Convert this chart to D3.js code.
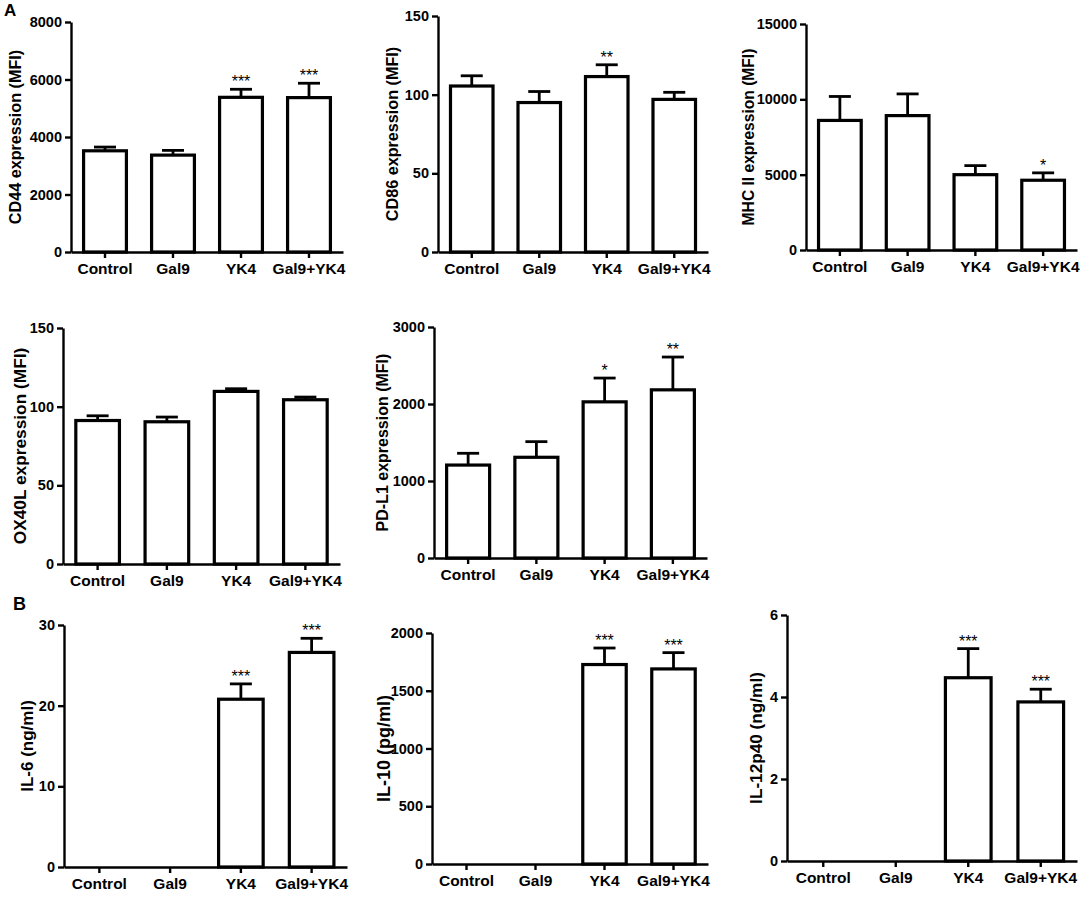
<!DOCTYPE html>
<html>
<head>
<meta charset="utf-8">
<script src="https://cdn.jsdelivr.net/npm/d3@7"></script>
<style>
  body { margin: 0; background: #fff; }
  svg { display: block; }
  text { font-family: "Liberation Sans", Arial, sans-serif; fill: #000; }
  .axis path, .axis line { stroke: #000; stroke-width: 2.4px; }
  .axis text { font-weight: bold; }
  .title { font-weight: bold; }
  .star { font-weight: normal; }
</style>
</head>
<body>
<div id="chart"></div>
<script>
// DATA
var categories = ["Control", "Gal9", "YK4", "Gal9+YK4"];

var cd44Mean = [3520, 3370, 5380, 5370];
var cd44Err  = [130, 165, 280, 500];
var cd44Stars = ["", "", "***", "***"];
var cd44Ticks = [0, 2000, 4000, 6000, 8000];

var cd86Mean = [105.5, 95, 111.5, 97];
var cd86Err  = [6.5, 7, 7.5, 4.5];
var cd86Stars = ["", "", "**", ""];
var cd86Ticks = [0, 50, 100, 150];

var mhc2Mean = [8600, 8920, 5000, 4630];
var mhc2Err  = [1590, 1440, 600, 490];
var mhc2Stars = ["", "", "", "*"];
var mhc2Ticks = [0, 5000, 10000, 15000];

var ox40lMean = [91.2, 90.4, 109.7, 104.4];
var ox40lErr  = [3, 3, 1.7, 1.7];
var ox40lStars = ["", "", "", ""];
var ox40lTicks = [0, 50, 100, 150];

var pdl1Mean = [1207, 1308, 2028, 2184];
var pdl1Err  = [153, 203, 309, 426];
var pdl1Stars = ["", "", "*", "**"];
var pdl1Ticks = [0, 1000, 2000, 3000];

var il6Mean = [0, 0, 20.8, 26.6];
var il6Err  = [0, 0, 1.9, 1.75];
var il6Stars = ["", "", "***", "***"];
var il6Ticks = [0, 10, 20, 30];

var il10Mean = [0, 0, 1727, 1689];
var il10Err  = [0, 0, 143, 141];
var il10Stars = ["", "", "***", "***"];
var il10Ticks = [0, 500, 1000, 1500, 2000];

var il12Mean = [0, 0, 4.47, 3.88];
var il12Err  = [0, 0, 0.71, 0.31];
var il12Stars = ["", "", "***", "***"];
var il12Ticks = [0, 2, 4, 6];

var panels = [
    {title: "CD44 expression (MFI)",   mean: cd44Mean,  err: cd44Err,  stars: cd44Stars,  ticks: cd44Ticks},
    {title: "CD86 expression (MFI)",   mean: cd86Mean,  err: cd86Err,  stars: cd86Stars,  ticks: cd86Ticks},
    {title: "MHC II expression (MFI)", mean: mhc2Mean,  err: mhc2Err,  stars: mhc2Stars,  ticks: mhc2Ticks},
    {title: "OX40L expression (MFI)",  mean: ox40lMean, err: ox40lErr, stars: ox40lStars, ticks: ox40lTicks},
    {title: "PD-L1 expression (MFI)",  mean: pdl1Mean,  err: pdl1Err,  stars: pdl1Stars,  ticks: pdl1Ticks},
    {title: "IL-6 (ng/ml)",            mean: il6Mean,   err: il6Err,   stars: il6Stars,   ticks: il6Ticks},
    {title: "IL-10 (pg/ml)",           mean: il10Mean,  err: il10Err,  stars: il10Stars,  ticks: il10Ticks},
    {title: "IL-12p40 (ng/ml)",        mean: il12Mean,  err: il12Err,  stars: il12Stars,  ticks: il12Ticks}
];

// LAYOUT (axis corner positions, title offset, font sizes)
var layout = [
    {x0: 71,  x1: 343,  yTop: 22,  yBot: 252, tdx: -55.5, tfs: 16.2, fs: 14.5},
    {x0: 438, x1: 708,  yTop: 16,  yBot: 252, tdx: -46,   tfs: 16.2, fs: 14.5},
    {x0: 806, x1: 1077, yTop: 24,  yBot: 250, tdx: -57,   tfs: 15.6, fs: 14.5},
    {x0: 63,  x1: 340,  yTop: 328, yBot: 564, tdx: -43.5, tfs: 17.3, fs: 14.5},
    {x0: 434, x1: 707,  yTop: 327, yBot: 558, tdx: -52,   tfs: 16,   fs: 14.5},
    {x0: 64,  x1: 347,  yTop: 625, yBot: 867, tdx: -37,   tfs: 17,   fs: 14.5},
    {x0: 432, x1: 708,  yTop: 633, yBot: 864, tdx: -48,   tfs: 18,   fs: 14.5},
    {x0: 787, x1: 1077, yTop: 615, yBot: 861, tdx: -31.5, tfs: 17.2, fs: 14.5}
];

var width = 1084, height = 898;

var svg = d3.select("#chart").append("svg")
    .attr("width", width)
    .attr("height", height);

svg.append("text").attr("x", 4).attr("y", 16)
    .attr("font-size", 17).attr("font-weight", "bold").text("A");
svg.append("text").attr("x", 13).attr("y", 610)
    .attr("font-size", 18).attr("font-weight", "bold").text("B");

function drawPanel(p, l) {
    var g = svg.append("g");

    var x = d3.scaleBand()
        .domain(categories)
        .range([l.x0, l.x1])
        .paddingInner(0.37)
        .paddingOuter(0.185);

    var y = d3.scaleLinear()
        .domain([0, d3.max(p.ticks)])
        .range([l.yBot, l.yTop]);

    /* AXIS */
    var xaxis = g.append("g")
        .attr("class", "axis")
        .attr("transform", "translate(0," + l.yBot + ")")
        .call(d3.axisBottom(x).tickSize(6).tickSizeOuter(0).tickPadding(5));
    xaxis.selectAll("text").attr("font-size", l.fs + 1);

    var yaxis = g.append("g")
        .attr("class", "axis")
        .attr("transform", "translate(" + l.x0 + ",0)")
        .call(d3.axisLeft(y).tickValues(p.ticks).tickSize(6).tickSizeOuter(0).tickPadding(3).tickFormat(d3.format("d")));
    yaxis.selectAll("text").attr("font-size", l.fs);

    g.append("text")
        .attr("class", "title")
        .attr("transform", "translate(" + (l.x0 + l.tdx) + "," + ((l.yTop + l.yBot) / 2) + ") rotate(-90)")
        .attr("dy", "0.35em")
        .attr("text-anchor", "middle")
        .attr("font-size", l.tfs)
        .text(p.title);

    var rows = categories.map(function(c, i) {
        return {cat: c, mean: p.mean[i], err: p.err[i], star: p.stars[i]};
    }).filter(function(d) { return d.mean > 0; });

    /* BARS */
    g.selectAll(".bar")
        .data(rows)
        .enter().append("rect")
        .attr("class", "bar")
        .attr("x", function(d) { return x(d.cat); })
        .attr("y", function(d) { return y(d.mean); })
        .attr("width", x.bandwidth())
        .attr("height", function(d) { return y(0) - y(d.mean); })
        .attr("fill", "#fff")
        .attr("stroke", "#000")
        .attr("stroke-width", 3.2);

    /* ERROR BARS */
    var cap = 11;
    var eb = g.selectAll(".err")
        .data(rows)
        .enter().append("g")
        .attr("class", "err")
        .attr("stroke", "#000")
        .attr("stroke-width", 2.8);
    eb.append("line")
        .attr("x1", function(d) { return x(d.cat) + x.bandwidth() / 2; })
        .attr("x2", function(d) { return x(d.cat) + x.bandwidth() / 2; })
        .attr("y1", function(d) { return y(d.mean); })
        .attr("y2", function(d) { return y(d.mean + d.err); });
    eb.append("line")
        .attr("x1", function(d) { return x(d.cat) + x.bandwidth() / 2 - cap; })
        .attr("x2", function(d) { return x(d.cat) + x.bandwidth() / 2 + cap; })
        .attr("y1", function(d) { return y(d.mean + d.err); })
        .attr("y2", function(d) { return y(d.mean + d.err); });

    /* SIGNIFICANCE */
    g.selectAll(".star")
        .data(rows.filter(function(d) { return d.star; }))
        .enter().append("text")
        .attr("class", "star")
        .attr("x", function(d) { return x(d.cat) + x.bandwidth() / 2; })
        .attr("y", function(d) { return y(d.mean + d.err) - 2; })
        .attr("text-anchor", "middle")
        .attr("font-size", 16)
        .text(function(d) { return d.star; });
}

panels.forEach(function(p, i) { drawPanel(p, layout[i]); });
</script>
</body>
</html>
